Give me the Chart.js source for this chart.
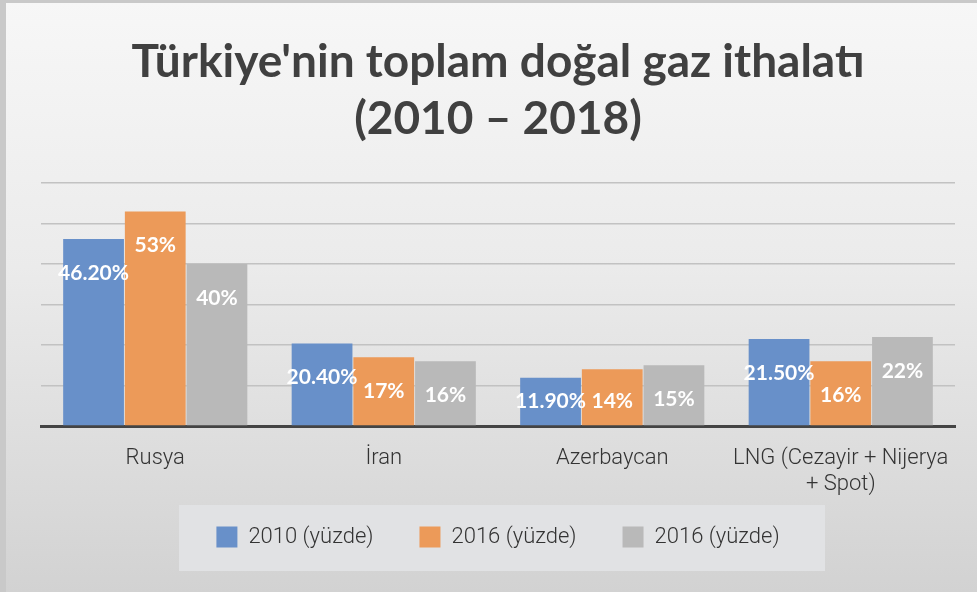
<!DOCTYPE html>
<html lang="tr">
<head>
    <meta charset="UTF-8">
    <title>Türkiye'nin toplam doğal gaz ithalatı</title>
    <script src="https://cdn.jsdelivr.net/npm/chart.js"></script>
    <style>
        html, body { margin: 0; padding: 0; background: #d6d6d6; }
        #wrap { width: 977px; height: 592px; }
    </style>
</head>
<body>
<div id="wrap"><canvas id="grafik"></canvas></div>
<script>
    // Veriler (yüzde)
    const ulkeler = ["Rusya", "İran", "Azerbaycan", ["LNG (Cezayir + Nijerya", "+ Spot)"]];
    const seri2010 = [46.2, 20.4, 11.9, 21.5];
    const seri2016 = [53, 17, 14, 16];
    const seri2016b = [40, 16, 15, 22];
    const etiketler2010 = ["46.20%", "20.40%", "11.90%", "21.50%"];
    const etiketler2016 = ["53%", "17%", "14%", "16%"];
    const etiketler2016b = ["40%", "16%", "15%", "22%"];
    const seriAdlari = ["2010 (yüzde)", "2016 (yüzde)", "2016 (yüzde)"];

    // arka plan + lejant kutusu
    const arkaPlan = {
        id: 'arkaPlan',
        beforeDraw(chart) {
            const ctx = chart.ctx;
            const w = chart.width, h = chart.height;
            ctx.save();
            ctx.fillStyle = '#c9c9c9';
            ctx.fillRect(0, 0, w, h);
            const g = ctx.createLinearGradient(0, 0, 0, h);
            g.addColorStop(0, '#f7f7f7');
            g.addColorStop(0.45, '#ebebeb');
            g.addColorStop(1, '#d2d2d2');
            ctx.fillStyle = g;
            ctx.fillRect(6, 3, w - 6, h - 3);
            ctx.fillStyle = '#e1e2e4';
            ctx.fillRect(179, 505, 646, 66);
            ctx.restore();
        }
    };

    // çubuk üstü etiketler
    const degerEtiketleri = {
        id: 'degerEtiketleri',
        afterDatasetsDraw(chart) {
            const ctx = chart.ctx;
            const taban = chart.scales.y.getPixelForValue(0);
            ctx.save();
            ctx.fillStyle = '#ffffff';
            ctx.font = 'bold 21px Lato';
            ctx.textAlign = 'center';
            ctx.textBaseline = 'middle';
            chart.data.datasets.forEach((ds, i) => {
                chart.getDatasetMeta(i).data.forEach((bar, j) => {
                    const y = Math.min(bar.y + 34, taban - 25);
                    ctx.fillText(ds.etiketler[j], bar.x, y);
                });
            });
            ctx.restore();
        }
    };

    new Chart(document.getElementById('grafik'), {
        type: 'bar',
        data: {
            labels: ulkeler,
            datasets: [
                { label: seriAdlari[0], data: seri2010, etiketler: etiketler2010, backgroundColor: '#6890c9' },
                { label: seriAdlari[1], data: seri2016, etiketler: etiketler2016, backgroundColor: '#ec9a59' },
                { label: seriAdlari[2], data: seri2016b, etiketler: etiketler2016b, backgroundColor: '#b9b9b9' }
            ]
        },
        options: {
            responsive: true,
            maintainAspectRatio: false,
            animation: false,
            categoryPercentage: 0.81,
            barPercentage: 0.985,
            layout: { padding: { left: 41, right: 22, top: 0, bottom: 34 } },
            plugins: {
                title: {
                    display: true,
                    text: ["Türkiye'nin toplam doğal gaz ithalatı", "(2010 – 2018)"],
                    color: '#404040',
                    font: { family: 'Lato', size: 46, weight: 'bold', lineHeight: 1.24 },
                    padding: { top: 34, bottom: 35 }
                },
                legend: {
                    position: 'bottom',
                    labels: {
                        boxWidth: 21,
                        boxHeight: 21,
                        padding: 46,
                        color: '#333333',
                        font: { family: 'Roboto', size: 22, weight: '300' }
                    }
                },
                tooltip: { enabled: false }
            },
            scales: {
                x: {
                    grid: { display: false, drawTicks: false },
                    border: { display: true, color: '#444444', width: 3 },
                    ticks: {
                        color: '#333333',
                        padding: 20,
                        maxRotation: 0,
                        autoSkip: false,
                        font: { family: 'Roboto', size: 22, weight: '300', lineHeight: 1.18 }
                    },
                    // eksen yüksekliğini kısalt, etiketler lejant boşluğuna taşabilsin
                    afterFit(scale) {
                        scale.height = 54;
                        scale._computeLabelArea = () => undefined;
                    }
                },
                y: {
                    min: 0,
                    max: 60,
                    ticks: { display: false, stepSize: 10 },
                    border: { display: false },
                    grid: { color: '#c2c2c2', lineWidth: 1.5, drawTicks: false }
                }
            }
        },
        plugins: [arkaPlan, degerEtiketleri]
    });
</script>
</body>
</html>
